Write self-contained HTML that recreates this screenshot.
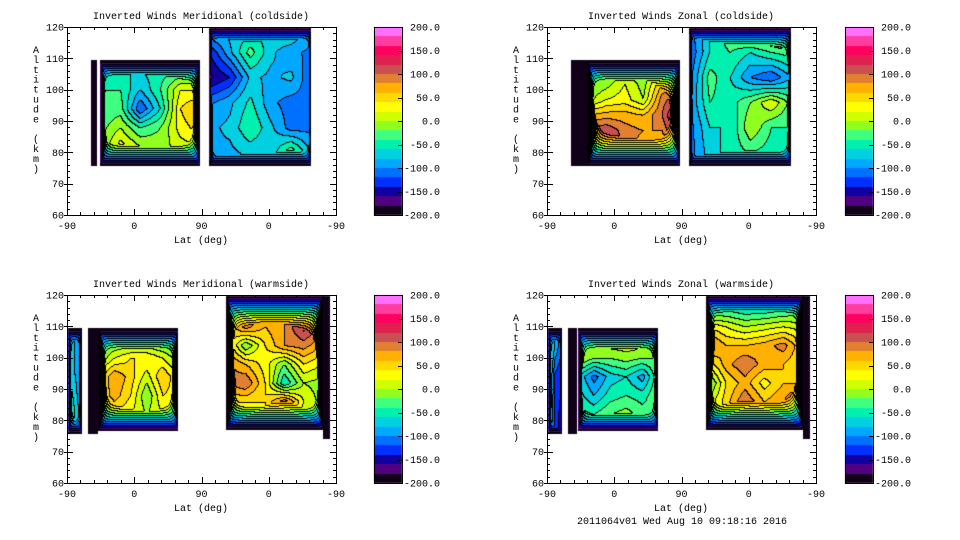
<!DOCTYPE html>
<html><head><meta charset="utf-8"><style>
body{margin:0;background:#fff;width:960px;height:540px;overflow:hidden;font-family:"Liberation Mono",monospace;}
#root{position:relative;width:960px;height:540px;}
canvas{position:absolute;left:0;top:0;}
svg{position:absolute;left:0;top:0;}
text{font-family:"Liberation Mono",monospace;font-size:10px;fill:#000;}
</style></head><body>
<div id="root">
<canvas id="cv" width="960" height="540"></canvas>
<svg id="sv" width="960" height="540"></svg>
</div>
<script>
// ---- data (lat axis units 0..360 = -90..90..-90 ; altitude km) ----
const titles = ["Inverted Winds Meridional (coldside)","Inverted Winds Zonal (coldside)","Inverted Winds Meridional (warmside)","Inverted Winds Zonal (warmside)"];
const xTickLabels = ["-90","0","90","0","-90"];
const yTickLabels = ["60","70","80","90","100","110","120"];
const cbLabels = ["-200.0","-150.0","-100.0","-50.0","0.0","50.0","100.0","150.0","200.0"];
const footer = "2011064v01 Wed Aug 10 09:18:16 2016";

const tlBlockU = [[32,40],[44,178],[190,327]];
const tlBlockAlt = [[75.5,109.5],[75.5,109.5],[75.5,120]];
const tlGridAlt = [[90],[82,88,94,100,106],[80,88,96,104,112,118]];
const tlGrid = [
 [[-230]],
 [[-20,30,0,-10,10,20],[-30,0,-40,-20,30,50],[-40,-30,-120,-60,40,70],[-40,-40,-80,-40,20,20],[-60,-60,-60,-50,-40,-40]],
 [[-85,-85,-75,-75,-20,-85],[-85,-75,-40,-75,-110,-105],[-105,-85,-55,-95,-110,-105],[-165,-140,-75,-85,-75,-120],[-140,-85,-30,-75,-95,-105],[-85,-75,-65,-65,-60,-95]]
];
const trBlockU = [[32,53],[54,178],[190,327]];
const trBlockAlt = [[75.5,109.5],[75.5,109.5],[75.5,120]];
const trGridAlt = [[90],[82,87,92,97,102,107],[80,88,96,104,112,118]];
const trGrid = [
 [[-230]],
 [[100,130,90,70,60,40],[110,120,90,80,80,150],[60,70,70,60,100,170],[-10,20,30,0,90,120],[-20,-10,20,-10,60,60],[-20,-20,-20,-20,-10,-10]],
 [[-110,-70,-50,-40,-50,-40],[-110,-60,-60,0,-40,-40],[-100,-40,-50,-20,20,-30],[-110,-30,-60,-100,-120,-80],[-120,-60,-40,-60,-40,-30],[-110,-60,-20,10,20,50]]
];
const blBlockU = [[0,20],[28,41],[42,149],[213,342],[342,352]];
const blBlockAlt = [[75.5,109.5],[75.5,109.5],[76.5,109.5],[77,120],[74,120]];
const blGridAlt = [[82,95,104],[90],[82,88,94,100,106],[80,86,92,98,104,110,116],[90]];
const blGrid = [
 [[-20,-60,-100],[-60,-80,-110],[-60,-80,-110]],
 [[-230]],
 [[20,40,20,0,20,20],[40,70,40,-20,40,30],[30,80,50,10,60,20],[-20,20,40,40,20,-10],[-40,-30,-30,-30,-40,-50]],
 [[30,40,30,60,0,-20],[40,40,40,100,20,-10],[80,100,40,-60,0,-10],[90,60,30,-20,40,20],[60,-20,40,80,90,60],[40,90,60,80,130,100],[40,110,60,70,120,80]],
 [[-230]]
];
const brBlockU = [[0,20],[28,40],[41,149],[213,342],[342,352]];
const brBlockAlt = [[75.5,109.5],[75.5,109.5],[76.5,109.5],[77,120],[74,120]];
const brGridAlt = [[82,95,104],[90],[82,88,94,100,106],[80,86,92,98,104,110,116],[90]];
const brGrid = [
 [[-40,-130,-150],[-20,-120,-140],[-20,-80,-120]],
 [[-230]],
 [[-30,-40,-20,-10,-30,-30],[-50,-80,-50,-40,-50,-20],[-60,-110,-70,-60,-90,-20],[10,-20,-20,-10,-20,-20],[0,20,20,20,20,0]],
 [[30,40,60,50,80,130],[0,50,100,60,80,130],[-40,40,70,30,60,60],[20,70,100,70,60,40],[100,60,60,70,90,40],[40,20,0,10,20,10],[-60,-50,-60,-60,-50,-40]],
 [[-230]]
];
const bandColors = ["#100018","#500080","#1000a0","#0030ff","#0070ff","#00a8ff","#00d0e0","#00f0b0","#40ff80","#90ff20","#d0ff00","#ffff00","#ffd800","#ffb000","#e08030","#c85050","#e02050","#ff0060","#ff3ca0","#ff70ff"];

// ---- layout ----
const panels = [
 {ox:0,oy:0,U:tlBlockU,A:tlBlockAlt,GA:tlGridAlt,G:tlGrid},
 {ox:480,oy:0,U:trBlockU,A:trBlockAlt,GA:trGridAlt,G:trGrid},
 {ox:0,oy:268,U:blBlockU,A:blBlockAlt,GA:blGridAlt,G:blGrid},
 {ox:480,oy:268,U:brBlockU,A:brBlockAlt,GA:brGridAlt,G:brGrid}
];
const FX0=67,FX1=336,FY0=27,FY1=215;
const xs = u => FX0 + u*(FX1-FX0)/360;
const ys = a => FY1 - (a-60)*(FY1-FY0)/60;
const us = x => (x-FX0)*360/(FX1-FX0);
const as = y => 60 + (FY1-y)*60/(FY1-FY0);
function hex(c){return [parseInt(c.substr(1,2),16),parseInt(c.substr(3,2),16),parseInt(c.substr(5,2),16)];}
const rgb = bandColors.map(hex);

function interp(gridAlt,grid,u0,u1,u,a){
  const rows=grid.length, cols=grid[0].length;
  let cf = cols>1 ? (u-u0)/(u1-u0)*(cols-1) : 0;
  cf=Math.max(0,Math.min(cols-1,cf));
  let r0=0; while(r0<rows-1 && gridAlt[r0+1]<=a) r0++;
  let rf;
  if(rows===1||a<=gridAlt[0]){rf=0;} else if(a>=gridAlt[rows-1]){rf=rows-1;} else {rf=r0+(a-gridAlt[r0])/(gridAlt[r0+1]-gridAlt[r0]);}
  const c0=Math.floor(cf), c1=Math.min(cols-1,c0+1), tc=cf-c0;
  const ra=Math.floor(rf), rb=Math.min(rows-1,ra+1), tr=rf-ra;
  const v0=grid[ra][c0]*(1-tc)+grid[ra][c1]*tc;
  const v1=grid[rb][c0]*(1-tc)+grid[rb][c1]*tc;
  return v0*(1-tr)+v1*tr;
}

const cv=document.getElementById('cv'); const ctx=cv.getContext('2d');
const img=ctx.createImageData(960,540); const D=img.data;
for(let i=0;i<D.length;i+=4){D[i]=255;D[i+1]=255;D[i+2]=255;D[i+3]=255;}
const KH=40, KV=10;
panels.forEach(p=>{
  const W=FX1-FX0, H=FY1-FY0;
  const band=new Int16Array((W+1)*(H+1)).fill(-1);
  for(let py=FY0+1;py<FY1;py++){
    for(let px=FX0+1;px<FX1;px++){
      const u=us(px+0.5), a=as(py+0.5);
      let best=null;
      for(let b=0;b<p.U.length;b++){
        const [u0,u1]=p.U[b],[a0,a1]=p.A[b];
        if(u<u0||u>u1||a<a0||a>a1) continue;
        const x0=xs(u0),x1=xs(u1),yt=ys(a1),yb=ys(a0);
        const dx=Math.max(0.01,Math.min(px+0.5-x0,x1-px-0.5)), dy=Math.max(0.01,Math.min(py+0.5-yt,yb-py-0.5));
        const rx=KH*dx, ry=KV*dy;
        const r=1/Math.sqrt(1/(rx*rx)+1/(ry*ry));
        let v=interp(p.GA[b],p.G[b],u0,u1,u,a);
        v=Math.min(v,-200+r);
        if(best===null||v>best) best=v;
      }
      if(best===null) continue;
      let bi=Math.floor((best+200)/20); bi=Math.max(0,Math.min(19,bi));
      band[(py-FY0)*(W+1)+(px-FX0)]=bi;
    }
  }
  for(let py=FY0+1;py<FY1;py++){
    for(let px=FX0+1;px<FX1;px++){
      const bi=band[(py-FY0)*(W+1)+(px-FX0)];
      if(bi<0) continue;
      const l=band[(py-FY0)*(W+1)+(px-FX0-1)], t=band[(py-FY0-1)*(W+1)+(px-FX0)];
      let c=rgb[bi];
      if((l>=0&&l!==bi)||(t>=0&&t!==bi)) c=[0,0,0];
      const k=((py+p.oy)*960+(px+p.ox))*4;
      D[k]=c[0];D[k+1]=c[1];D[k+2]=c[2];
    }
  }
});
// colorbars
panels.forEach((p,i)=>{
  const cx0=(i%2?845:374), cx1=(i%2?873:402);
  for(let b=0;b<20;b++){
    const yt=Math.round(FY0+ (19-b)*(FY1-FY0)/20), yb=Math.round(FY0+(20-b)*(FY1-FY0)/20);
    const c=rgb[b];
    for(let y=yt;y<yb;y++) for(let x=cx0;x<cx1;x++){const k=((y+p.oy)*960+x)*4;D[k]=c[0];D[k+1]=c[1];D[k+2]=c[2];}
  }
});
ctx.putImageData(img,0,0);

// ---- SVG axes ----
const NS='http://www.w3.org/2000/svg', sv=document.getElementById('sv');
function mk(tag,at,parent){const e=document.createElementNS(NS,tag);for(const k in at)e.setAttribute(k,at[k]);(parent||sv).appendChild(e);return e;}
panels.forEach((p,i)=>{
  const g=mk('g',{transform:`translate(${p.ox},${p.oy})`});
  
  
  const t=mk('text',{x:201,y:19,'text-anchor':'middle'},g); t.textContent=titles[i];
  
  
  const fr=mk('rect',{x:FX0+0.5,y:FY0+0.5,width:FX1-FX0,height:FY1-FY0,fill:'none',stroke:'#000','stroke-width':1},g);
  
  
  let d='';
  for(let a=60;a<=120;a+=2){const y=Math.round(ys(a))+0.5;const L=(a%10===0)?6:3;d+=`M${FX0} ${y}h${L}M${FX1} ${y}h${-L}`; if(a%10===0)d+=`M${FX0-3} ${y}h3`;}
  for(let u=0;u<=360;u+=18){const x=Math.round(xs(u))+0.5;const L=(u%90===0)?6:3;d+=`M${x} ${FY1}v${-L}M${x} ${FY0}v${L}`;}
  const tk=mk('path',{d:d,stroke:'#000','stroke-width':1,fill:'none'},g);
  
  
  yTickLabels.forEach((s,j)=>{const e=mk('text',{x:64,y:ys(60+10*j)+3.5,'text-anchor':'end'},g);e.textContent=s;
    
    });
  xTickLabels.forEach((s,j)=>{const e=mk('text',{x:xs(90*j),y:229,'text-anchor':'middle'},g);e.textContent=s;
    
    });
  const xl=mk('text',{x:201,y:243,'text-anchor':'middle'},g); xl.textContent='Lat (deg)';
  
  
  const yl=mk('g',{},g);
  
  
  'Altitude (km)'.split('').forEach((c,j)=>{const e=mk('text',{x:36,y:53+j*9.9,'text-anchor':'middle'},yl);e.textContent=c;});
  const cbx=(i%2?845:374)-p.ox;
  const cb=mk('rect',{x:cbx+0.5,y:FY0+0.5,width:28,height:FY1-FY0,fill:'none',stroke:'#000'},g);
  
  
  let cd='';
  cbLabels.forEach((s,j)=>{const y=FY1-j*(FY1-FY0)/8;
    if(j>0&&j<8)cd+=`M${cbx+28} ${Math.round(y)+0.5}h-4`;
    const e=mk('text',{x:cbx+66,y:y+3.5,'text-anchor':'end'},g);e.textContent=s;
    
    });
  mk('path',{d:cd,stroke:'#000'},g);
});
const f=mk('text',{x:682,y:524,'text-anchor':'middle'}); f.textContent=footer;


</script>
</body></html>
